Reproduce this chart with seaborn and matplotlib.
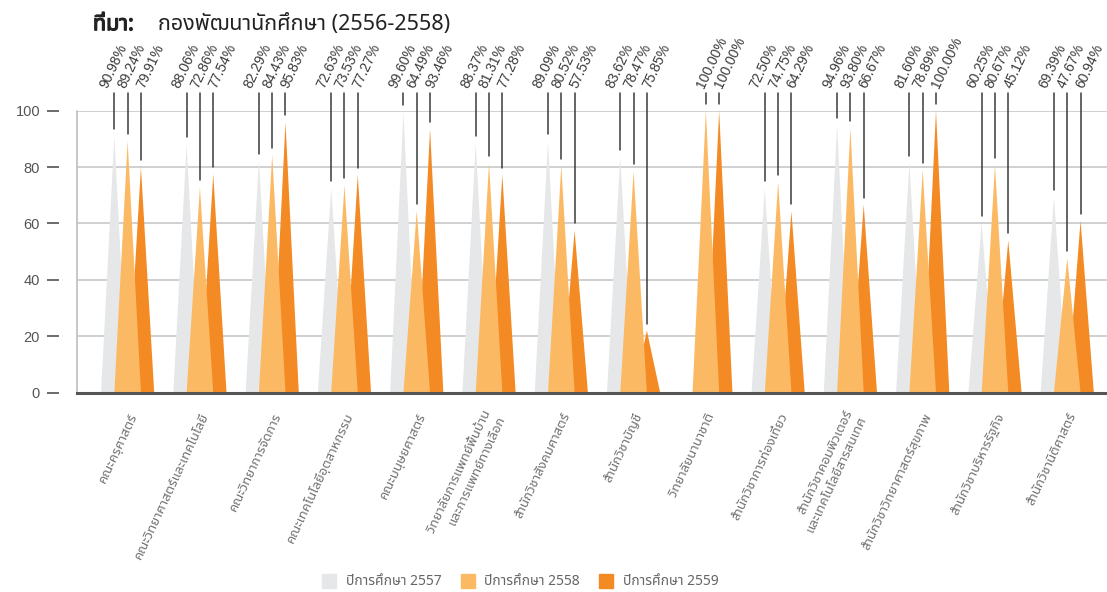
import numpy as np
import pandas as pd
import matplotlib
matplotlib.use("Agg")
import matplotlib.pyplot as plt
import matplotlib.patheffects as pe
import seaborn as sns
from matplotlib import font_manager
from matplotlib.ft2font import FT2Font
from matplotlib.patches import Polygon
from matplotlib.lines import Line2D
from matplotlib.transforms import ScaledTranslation

faculties = [
    "คณะครุศาสตร์",
    "คณะวิทยาศาสตร์และเทคโนโลยี",
    "คณะวิทยาการจัดการ",
    "คณะเทคโนโลยีอุตสาหกรรม",
    "คณะมนุษยศาสตร์",
    "วิทยาลัยการแพทย์พื้นบ้าน\nและการแพทย์ทางเลือก",
    "สำนักวิชาสังคมศาสตร์",
    "สำนักวิชาบัญชี",
    "วิทยาลัยนานาชาติ",
    "สำนักวิชาการท่องเที่ยว",
    "สำนักวิชาคอมพิวเตอร์\nและเทคโนโลยีสารสนเทศ",
    "สำนักวิชาวิทยาศาสตร์สุขภาพ",
    "สำนักวิชาบริหารรัฐกิจ",
    "สำนักวิชานิติศาสตร์",
]
years = ["ปีการศึกษา 2557", "ปีการศึกษา 2558", "ปีการศึกษา 2559"]

# percentages as printed on the labels
pct_2557 = [90.98, 88.06, 82.29, 72.63, 99.60, 88.37, 89.09, 83.62, np.nan, 72.50, 94.96, 81.60, 60.25, 69.39]
pct_2558 = [89.24, 72.86, 84.43, 73.53, 64.49, 81.31, 80.52, 78.47, 100.00, 74.75, 93.80, 78.89, 80.67, 47.67]
pct_2559 = [79.91, 77.54, 95.83, 77.27, 93.46, 77.28, 57.53, 75.85, 100.00, 64.29, 66.67, 100.00, 45.12, 60.94]
# the source draws two 2559 peaks at other heights than their labels
peak_2559 = [79.91, 77.54, 95.83, 77.27, 93.46, 77.28, 57.53, 22.0, 100.00, 64.29, 66.67, 100.00, 54.0, 60.94]

colors = ["#E6E7E8", "#FCB963", "#F48A24"]


def find_thai_font():
    preferred = ["Noto Sans Thai", "Noto Sans Thai Looped", "Sarabun", "Loma", "Garuda",
                 "Waree", "Umpush", "Kinnari", "Norasi", "Laksaman", "Tlwg Typo"]
    names = {f.name for f in font_manager.fontManager.ttflist}
    for n in preferred:
        if n in names:
            return n
    for f in font_manager.fontManager.ttflist:
        try:
            if 0x0E01 in FT2Font(f.fname).get_charmap():
                return f.name
        except Exception:
            pass
    return None


sns.set_theme(style="white")
thai = find_thai_font()
families = ([thai] if thai else []) + ["DejaVu Sans"]
plt.rcParams["font.family"] = families
num_font = ["Liberation Sans", "DejaVu Sans"]

heights = [pct_2557, pct_2558, peak_2559]
labels = [pct_2557, pct_2558, pct_2559]
df = pd.DataFrame({
    "faculty": faculties * 3,
    "year": np.repeat(years, len(faculties)),
    "height": np.concatenate(heights),
}).dropna()

fig = plt.figure(figsize=(11.07, 5.92), dpi=100)
ax = fig.add_axes([0.0696, 0.3367, 0.9304, 0.4763])

sns.barplot(data=df, x="faculty", y="height", hue="year", order=faculties, hue_order=years,
            palette=colors, width=0.552, errorbar=None, legend=False, ax=ax)

# turn every bar into a pointed triangle, with a leader line up to its label
zorders = [2, 4, 3]
for s, cont in enumerate(ax.containers):
    for bar in cont:
        h = bar.get_height()
        bar.set_visible(False)
        if np.isnan(h):
            continue
        w = bar.get_width()
        c = bar.get_x() + w / 2
        ax.add_patch(Polygon([(c - w, 0), (c, h), (c + w, 0)], closed=True,
                             facecolor=colors[s], edgecolor="none", zorder=zorders[s]))
        cat = int(round(c))
        val = labels[s][cat]
        ax.plot([c, c], [h + 2.5, 106.2], color="#3a3a3a", lw=1.1, clip_on=False, zorder=5)
        # labels are fanned out wider than the peaks
        ax.text(cat + (s - 1) * 0.254 - 0.08, 108.4, f"{val:.2f}%", rotation=65,
                rotation_mode="anchor", ha="left", va="center", fontsize=10,
                color="#3a3a3a", family=num_font, clip_on=False)

ax.set_xlim(-0.70, 13.55)
ax.set_ylim(0, 100)
ax.set_yticks([0, 20, 40, 60, 80, 100])
ax.set_xlabel("")
ax.set_ylabel("")

ax.yaxis.grid(True, color="#c8c8c8", lw=1.2)
ax.set_axisbelow(True)
for side in ["top", "right"]:
    ax.spines[side].set_visible(False)
ax.spines["left"].set_position(("outward", 13))
ax.spines["left"].set_visible(False)
ax.spines["bottom"].set_color("#555555")
ax.spines["bottom"].set_linewidth(2.2)
ax.spines["bottom"].set_zorder(6)
ax.axvline(-0.70, color="#bdbdbd", lw=1.2, clip_on=False)

ax.tick_params(axis="y", left=True, direction="out", length=8.6, width=1.1, color="#444444",
               pad=5, labelsize=10.5, labelcolor="#555555")
for t in ax.get_yticklabels():
    t.set_family(num_font)
ax.tick_params(axis="x", bottom=False, pad=9, labelsize=9.5, labelcolor="#707070")
ax.set_xticks(range(len(faculties)))
ax.set_xticklabels(faculties, rotation=65, ha="right", va="center", rotation_mode="anchor",
                   multialignment="right")
shift = ScaledTranslation(6 / 100, 0, fig.dpi_scale_trans)
for t in ax.get_xticklabels():
    t.set_transform(t.get_transform() + shift)

handles = [Line2D([], [], marker="s", ls="", markersize=10.5, markerfacecolor=c, markeredgecolor=c)
           for c in colors]
fig.legend(handles, years, loc="center", bbox_to_anchor=(0.467, 0.017), ncol=3, frameon=False,
           fontsize=10, labelcolor="#666666", handletextpad=0.2, columnspacing=0.9)

bold = [pe.withStroke(linewidth=0.9, foreground="#222222")]
fig.text(0.084, 0.949, "ที่มา:", fontsize=15.5, fontweight="bold", color="#222222",
         va="baseline", path_effects=bold)
fig.text(0.143, 0.949, "กองพัฒนานักศึกษา (2556-2558)", fontsize=15.5, color="#222222",
         va="baseline")

fig.savefig("out.png", dpi=100)
